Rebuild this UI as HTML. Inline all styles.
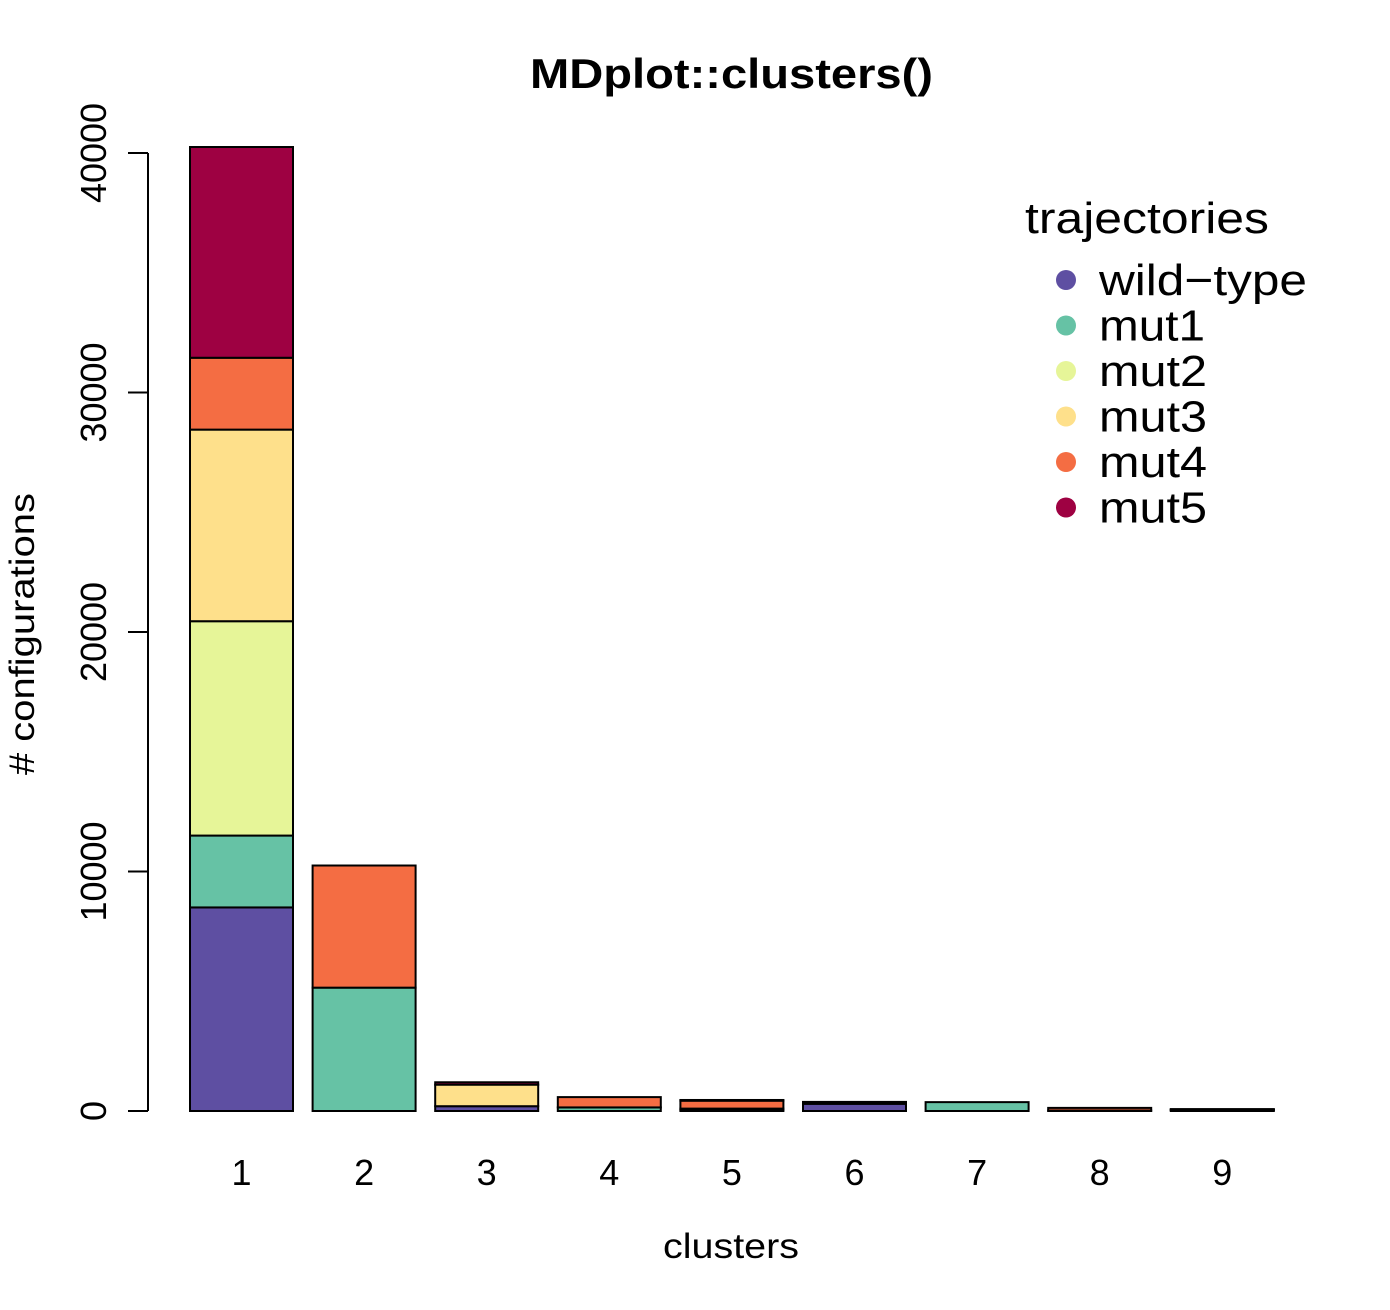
<!DOCTYPE html>
<html><head><meta charset="utf-8"><style>
body{margin:0;background:#fff}
svg text{font-family:"Liberation Sans",Arial,sans-serif}
</style></head><body>
<svg id="chart" width="1390" height="1305" xmlns="http://www.w3.org/2000/svg">
<text x="530" y="88" textLength="403" lengthAdjust="spacingAndGlyphs" font-size="42" font-weight="bold">MDplot::clusters()</text>
<text x="663" y="1258" textLength="136" lengthAdjust="spacingAndGlyphs" font-size="35">clusters</text>
<text transform="translate(34,775) rotate(-90)" textLength="282" lengthAdjust="spacingAndGlyphs" font-size="35"># configurations</text>
<g id="yaxis"></g>
<g id="bars"></g>
<g id="xlabels"></g>
<g id="legend">
<text x="1025" y="233" textLength="244" lengthAdjust="spacingAndGlyphs" font-size="44">trajectories</text>
</g>
</svg>
<script>
const categories=["1","2","3","4","5","6","7","8","9"];
const seriesNames=["wild\u2212type","mut1","mut2","mut3","mut4","mut5"];
const legendWidths=[208,106,108,108,108,108];
const colors=["#5E4FA2","#66C2A5","#E6F598","#FEE08B","#F46D43","#9E0142"];
const wildType=[8500,0,200,0,50,300,0,0,30];
const mut1=[3000,5150,0,150,50,0,370,20,20];
const mut2=[8950,0,0,0,0,0,0,0,0];
const mut3=[8000,0,900,0,0,0,0,0,0];
const mut4=[3000,5100,0,430,330,0,0,110,10];
const mut5=[8800,0,100,0,30,80,0,0,20];
const yTicks=[0,10000,20000,30000,40000];
const series=[wildType,mut1,mut2,mut3,mut4,mut5];
const NS="http://www.w3.org/2000/svg";
const y0=1111,y1=153;
const yScale=v=>y0-(v/40000)*(y0-y1);
const xLeft=i=>190+i*122.6;
const bw=103;
function mk(tag,attrs,parent){const e=document.createElementNS(NS,tag);for(const k in attrs)e.setAttribute(k,attrs[k]);parent.appendChild(e);return e;}
const ya=document.getElementById('yaxis');
const axl=mk('line',{x1:148,x2:148,y1:yScale(0),y2:yScale(40000),stroke:'#000','stroke-width':2},ya);


yTicks.forEach(t=>{
  const l=mk('line',{x1:128,x2:148,y1:yScale(t),y2:yScale(t),stroke:'#000','stroke-width':2},ya);
  
  
  const tx=mk('text',{transform:`translate(106,${yScale(t)}) rotate(-90)`,'text-anchor':'middle','font-size':36},ya);
  tx.textContent=String(t);
  
  
});
const bg=document.getElementById('bars');
const xg=document.getElementById('xlabels');
categories.forEach((c,i)=>{
  let cum=0;
  series.forEach((s,j)=>{
    const v=s[i];
    if(v<=0) return;
    const r=mk('rect',{x:xLeft(i),width:bw,y:yScale(cum+v),height:yScale(cum)-yScale(cum+v),fill:colors[j],stroke:'#000','stroke-width':2},bg);
    
    
    cum+=v;
  });
  const t=mk('text',{x:xLeft(i)+bw/2,y:1185,'text-anchor':'middle','font-size':36},xg);
  t.textContent=c;
  
  
});
const lg=document.getElementById('legend');
seriesNames.forEach((n,j)=>{
  const y=280+j*45.5;
  const c=mk('circle',{cx:1066,cy:y,r:10,fill:colors[j]},lg);
  
  
  const t=mk('text',{x:1099,y:y+15,'font-size':44,textLength:legendWidths[j],lengthAdjust:'spacingAndGlyphs'},lg);
  t.textContent=n;
  
  
});
</script>
</body></html>
